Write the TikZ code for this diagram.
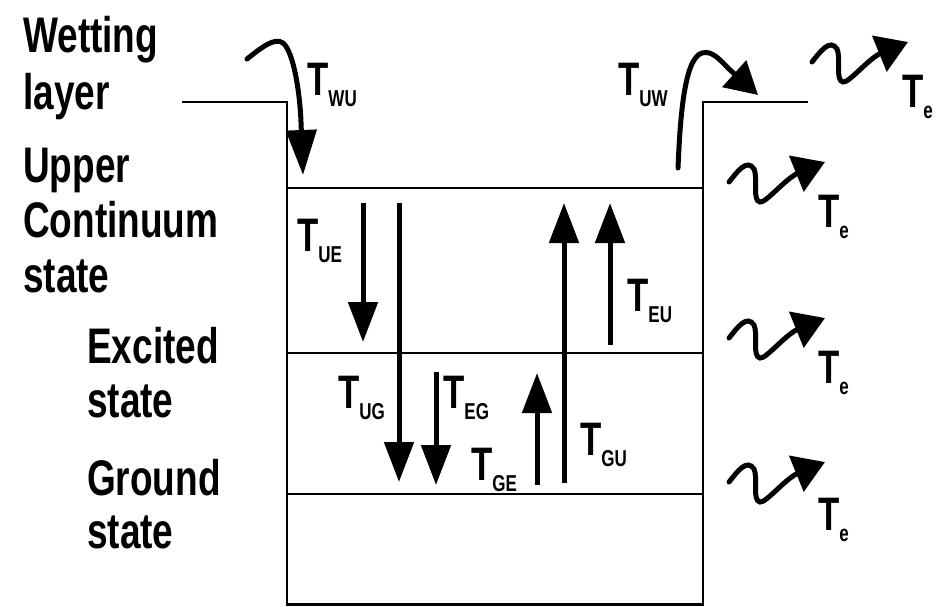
\documentclass[tikz,border=0pt]{standalone}
\usepackage{fontspec}
\setmainfont[FakeStretch=0.74]{Liberation Sans}
\usetikzlibrary{arrows.meta}
\newcommand{\tlab}[1]{{\fontsize{47}{47}\selectfont T}\raisebox{-11pt}{\fontsize{23}{23}\selectfont #1}}
\begin{document}
\begin{tikzpicture}[x=1pt,y=-1pt,
  lvl/.style={line width=2.8pt},
  trans/.style={line width=5pt,-{Triangle[length=40pt,width=29pt]}},
  curvy/.style={line width=5pt,line cap=round},
  side/.style={anchor=base west,inner sep=0pt,font=\bfseries\fontsize{50}{50}\selectfont},
  tl/.style={anchor=base west,inner sep=0pt,font=\bfseries},
  emit/.pic={\draw[line width=5pt,line cap=round,-{Triangle[length=31pt,width=38pt]}]
     (0,0) .. controls (8,-10) and (18,-24) .. (25,-13)
     .. controls (29,-5) and (23,19) .. (31,20)
     .. controls (37,21) and (55,-2) .. (69,-9) -- (96,-20);}]
\useasboundingbox (0,0) rectangle (936,606);
% well outline
\coordinate (wl) at (182,102);
\coordinate (ltop) at (287,102);
\coordinate (lbot) at (287,606);
\coordinate (rtop) at (703,102);
\coordinate (rbot) at (703,606);
\coordinate (wr) at (808,102);
\draw[lvl] (wl) -- (ltop) -- (lbot);
\draw[lvl] (wr) -- (rtop) -- (rbot);
\coordinate (ul) at (287,188); \coordinate (ur) at (703,188);
\coordinate (el) at (287,353); \coordinate (er) at (703,353);
\coordinate (gl) at (287,494); \coordinate (gr) at (703,494);
\coordinate (bl) at (287,604.5); \coordinate (br) at (703,604.5);
\draw[lvl] (ul) -- (ur);
\draw[lvl] (el) -- (er);
\draw[lvl] (gl) -- (gr);
\draw[lvl] (bl) -- (br);
% side labels
\node[side] (w1) at (23,52) {Wetting};
\node[side] (w2) at (23,109) {layer};
\node[side] (u1) at (23,182) {Upper};
\node[side] (u2) at (23,237) {Continuum};
\node[side] (u3) at (23,292) {state};
\node[side] (e1) at (87,363) {Excited};
\node[side] (e2) at (87,417) {state};
\node[side] (g1) at (87,495) {Ground};
\node[side] (g2) at (87,548) {state};
% vertical transitions
\coordinate (ueS) at (363,203); \coordinate (ueE) at (363,342);
\coordinate (ugS) at (399,203); \coordinate (ugE) at (399,482);
\coordinate (egS) at (436,372); \coordinate (egE) at (436,485);
\coordinate (geS) at (537,485); \coordinate (geE) at (537,373);
\coordinate (guS) at (564,483); \coordinate (guE) at (564,203);
\coordinate (euS) at (610,345); \coordinate (euE) at (610,203);
\draw[trans] (ueS) -- (ueE);
\draw[trans] (ugS) -- (ugE);
\draw[trans] (egS) -- (egE);
\draw[trans] (geS) -- (geE);
\draw[trans] (guS) -- (guE);
\draw[trans] (euS) -- (euE);
% curved transitions
\coordinate (wuS) at (247,59); \coordinate (wuE) at (303,175);
\draw[curvy,-{Triangle[length=45pt,width=30pt]}] (wuS) .. controls (262,47) and (275,37) .. (283,43)
   .. controls (294,52) and (300,95) .. (301,122) -- (wuE);
\coordinate (uwS) at (678,168); \coordinate (uwE) at (758,95);
\draw[curvy,-{Triangle[length=32pt,width=35pt]}] (uwS) .. controls (680,120) and (684,58) .. (702,53)
   .. controls (712,50) and (720,60) .. (729,69) -- (uwE);
% transition labels
\node[tl] (lWU) at (307,95) {\tlab{WU}};
\node[tl] (lUW) at (618,95) {\tlab{UW}};
\node[tl] (lUE) at (297,251) {\tlab{UE}};
\node[tl] (lUG) at (338,408) {\tlab{UG}};
\node[tl] (lEG) at (443,408) {\tlab{EG}};
\node[tl] (lGE) at (471,480) {\tlab{GE}};
\node[tl] (lGU) at (580,455) {\tlab{GU}};
\node[tl] (lEU) at (627,311) {\tlab{EU}};
% emission
\pic at (812,62) {emit};
\pic at (729,182) {emit};
\pic at (729,338) {emit};
\pic at (729,482) {emit};
\node[tl] (te1) at (902,107) {\tlab{e}};
\node[tl] (te2) at (818,227) {\tlab{e}};
\node[tl] (te3) at (818,383) {\tlab{e}};
\node[tl] (te4) at (818,530) {\tlab{e}};
\end{tikzpicture}
\end{document}
